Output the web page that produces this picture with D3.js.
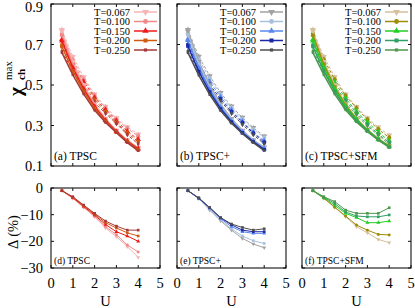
<!DOCTYPE html>
<html>
<head>
<meta charset="utf-8">
<script src="https://cdn.jsdelivr.net/npm/d3@7"></script>
<style>
  body { margin: 0; background: #fff; }
  svg text { font-family: "Liberation Serif", "DejaVu Serif", serif; fill: #000; }
</style>
</head>
<body>
<svg id="chart" width="415" height="308" font-family="Liberation Serif, DejaVu Serif, serif"></svg>
<script>
// interaction strength U (same grid for every curve)
const U = [0.5, 1, 1.5, 2, 2.5, 3, 3.5, 4];
const temps = ["T=0.067", "T=0.100", "T=0.150", "T=0.200", "T=0.250"];
const topLabels = ["(a) TPSC", "(b) TPSC+", "(c) TPSC+SFM"];
const bottomLabels = ["(d) TPSC", "(e) TPSC+", "(f) TPSC+SFM"];
const chiTicks = [0.1, 0.3, 0.5, 0.7, 0.9];
const deltaTicks = [0, -10, -20, -30];
const uTicks = [0, 1, 2, 3, 4, 5];
const errBar = [0.015, 0.013, 0.012, 0.012, 0.012, 0.012, 0.012, 0.012];

// chi_ch^max, solid curves (one row per temperature)
const chiTpsc = [
  [0.765, 0.615, 0.500, 0.405, 0.335, 0.275, 0.228, 0.190],
  [0.745, 0.600, 0.490, 0.400, 0.330, 0.272, 0.225, 0.188],
  [0.718, 0.585, 0.480, 0.393, 0.325, 0.270, 0.222, 0.185],
  [0.690, 0.568, 0.468, 0.385, 0.320, 0.267, 0.219, 0.180],
  [0.660, 0.550, 0.455, 0.375, 0.315, 0.265, 0.215, 0.175]
];
// chi_ch^max, dashed curves
const chiTpscDash = [
  [0.773, 0.640, 0.539, 0.454, 0.394, 0.337, 0.292, 0.257],
  [0.753, 0.624, 0.528, 0.447, 0.386, 0.330, 0.286, 0.247],
  [0.725, 0.607, 0.516, 0.438, 0.377, 0.323, 0.271, 0.231],
  [0.697, 0.588, 0.501, 0.427, 0.368, 0.314, 0.263, 0.220],
  [0.667, 0.569, 0.486, 0.414, 0.360, 0.309, 0.255, 0.208]
];
const chiPlus = [
  [0.765, 0.615, 0.500, 0.405, 0.333, 0.275, 0.228, 0.192],
  [0.748, 0.602, 0.490, 0.398, 0.328, 0.272, 0.225, 0.190],
  [0.720, 0.585, 0.478, 0.390, 0.322, 0.268, 0.222, 0.186],
  [0.692, 0.566, 0.465, 0.382, 0.317, 0.264, 0.219, 0.181],
  [0.660, 0.548, 0.452, 0.373, 0.311, 0.260, 0.215, 0.176]
];
const chiPlusDash = [
  [0.773, 0.641, 0.545, 0.462, 0.395, 0.339, 0.289, 0.247],
  [0.756, 0.627, 0.533, 0.452, 0.387, 0.332, 0.281, 0.240],
  [0.727, 0.609, 0.517, 0.441, 0.377, 0.321, 0.267, 0.224],
  [0.699, 0.588, 0.502, 0.430, 0.368, 0.314, 0.262, 0.217],
  [0.667, 0.569, 0.488, 0.420, 0.360, 0.305, 0.255, 0.208]
];
const chiSfm = [
  [0.765, 0.615, 0.500, 0.405, 0.335, 0.280, 0.235, 0.200],
  [0.745, 0.602, 0.490, 0.400, 0.332, 0.278, 0.233, 0.198],
  [0.718, 0.585, 0.480, 0.393, 0.328, 0.276, 0.232, 0.196],
  [0.690, 0.568, 0.468, 0.385, 0.323, 0.273, 0.230, 0.194],
  [0.660, 0.550, 0.455, 0.377, 0.318, 0.270, 0.228, 0.192]
];
const chiSfmDash = [
  [0.773, 0.640, 0.539, 0.454, 0.392, 0.337, 0.291, 0.252],
  [0.753, 0.626, 0.528, 0.447, 0.386, 0.330, 0.282, 0.240],
  [0.725, 0.607, 0.513, 0.434, 0.369, 0.317, 0.267, 0.224],
  [0.697, 0.588, 0.497, 0.423, 0.361, 0.306, 0.258, 0.216],
  [0.667, 0.569, 0.479, 0.411, 0.351, 0.298, 0.252, 0.207]
];

// Delta (%)
const deltaTpsc = [
  [-1, -3.9, -7.3, -10.8, -15.0, -18.3, -22.0, -26.0],
  [-1, -3.8, -7.2, -10.6, -14.5, -17.5, -21.4, -24.0],
  [-1, -3.6, -6.9, -10.2, -13.7, -16.4, -18.0, -20.0],
  [-1, -3.4, -6.6, -9.8, -13.0, -15.0, -16.8, -18.0],
  [-1, -3.3, -6.4, -9.5, -12.4, -14.3, -15.8, -15.8]
];
const deltaPlus = [
  [-1, -4.0, -8.3, -12.3, -15.8, -18.9, -21.0, -22.4],
  [-1, -4.0, -8.0, -12.0, -15.3, -18.0, -19.8, -20.8],
  [-1, -3.9, -7.6, -11.5, -14.5, -16.4, -17.0, -17.0],
  [-1, -3.8, -7.4, -11.2, -13.8, -15.8, -16.4, -16.4],
  [-1, -3.7, -7.3, -11.1, -13.5, -14.8, -15.8, -15.3]
];
const deltaSfm = [
  [-1, -3.9, -7.3, -10.8, -14.5, -16.8, -19.3, -20.5],
  [-1, -3.8, -7.2, -10.5, -13.9, -15.8, -17.4, -17.6],
  [-1, -3.6, -6.5, -9.5, -11.1, -13.0, -13.0, -12.4],
  [-1, -3.4, -5.8, -9.0, -10.5, -10.8, -10.8, -10.1],
  [-1, -3.3, -5.1, -8.3, -9.5, -9.5, -9.5, -7.4]
];

const palettes = [
  ["#f6b4b4", "#ef8a8a", "#ee1a1a", "#cf5a12", "#a63a3a"],
  ["#a2a2a2", "#a9c0dc", "#5a88ee", "#1a28a6", "#4e4e4e"],
  ["#d6c09e", "#9c8c08", "#22cf22", "#31a067", "#4d984d"]
];

const panels = [
  { chi: chiTpsc, dash: chiTpscDash, delta: deltaTpsc },
  { chi: chiPlus, dash: chiPlusDash, delta: deltaPlus },
  { chi: chiSfm, dash: chiSfmDash, delta: deltaSfm }
];

const svg = d3.select("#chart");

// layout
const lefts = [51, 177, 302];
const pw = 109;
const topY = [4, 166];
const botY = [188, 268];

// marker shapes per temperature
const shapes = [d3.symbolTriangle, d3.symbolCircle, d3.symbolTriangle, d3.symbolSquare, d3.symbolSquare];
const shapeRot = [180, 0, 0, 0, 0];
const shapeSize = [16, 14, 14, 12, 6];

function drawFrame(g, x, y, yTicks, xTicks) {
  const [x0, x1] = x.range();
  const [y1, y0] = y.range();
  g.append("rect")
    .attr("x", x0).attr("y", y0)
    .attr("width", x1 - x0).attr("height", y1 - y0)
    .attr("fill", "none").attr("stroke", "#111").attr("stroke-width", 1.1);
  // inward ticks on all four sides
  yTicks.forEach(t => {
    g.append("line").attr("x1", x0).attr("x2", x0 + 3).attr("y1", y(t)).attr("y2", y(t)).attr("stroke", "#111");
    g.append("line").attr("x1", x1).attr("x2", x1 - 3).attr("y1", y(t)).attr("y2", y(t)).attr("stroke", "#111");
  });
  xTicks.forEach(t => {
    g.append("line").attr("x1", x(t)).attr("x2", x(t)).attr("y1", y1).attr("y2", y1 - 3).attr("stroke", "#111");
    g.append("line").attr("x1", x(t)).attr("x2", x(t)).attr("y1", y0).attr("y2", y0 + 3).attr("stroke", "#111");
  });
}

panels.forEach((p, pi) => {
  const cols = palettes[pi];
  const x = d3.scaleLinear().domain([0, 5]).range([lefts[pi], lefts[pi] + pw]);

  // ---------- top row: chi max ----------
  const yc = d3.scaleLinear().domain([0.1, 0.9]).range(topY.slice().reverse());
  const gt = svg.append("g");
  const lineC = d3.line().x((d, i) => x(U[i])).y(d => yc(d));

  p.dash.forEach((row, ti) => {
    gt.append("path").attr("d", lineC(row))
      .attr("fill", "none").attr("stroke", cols[ti])
      .attr("stroke-width", 1).attr("stroke-dasharray", "3,2");
    row.forEach((v, i) => {
      gt.append("line")
        .attr("x1", x(U[i])).attr("x2", x(U[i]))
        .attr("y1", yc(v - errBar[i])).attr("y2", yc(v + errBar[i]))
        .attr("stroke", cols[ti]).attr("stroke-width", 1);
      gt.append("path")
        .attr("d", d3.symbol(shapes[ti], shapeSize[ti])())
        .attr("transform", `translate(${x(U[i])},${yc(v)}) rotate(${shapeRot[ti]})`)
        .attr("fill", cols[ti]);
    });
  });
  p.chi.forEach((row, ti) => {
    gt.append("path").attr("d", lineC(row))
      .attr("fill", "none").attr("stroke", cols[ti]).attr("stroke-width", 1.5);
    row.forEach((v, i) => {
      gt.append("path")
        .attr("d", d3.symbol(shapes[ti], shapeSize[ti])())
        .attr("transform", `translate(${x(U[i])},${yc(v)}) rotate(${shapeRot[ti]})`)
        .attr("fill", cols[ti]);
    });
  });
  drawFrame(gt, x, yc, chiTicks, uTicks);

  // legend
  const xr = lefts[pi] + pw;
  temps.forEach((t, ti) => {
    const ly = 12 + ti * 9.5;
    gt.append("text").attr("x", xr - 30).attr("y", ly + 3.5)
      .attr("text-anchor", "end").attr("font-size", 10.5).text(t);
    gt.append("line").attr("x1", xr - 26).attr("x2", xr - 3)
      .attr("y1", ly).attr("y2", ly)
      .attr("stroke", cols[ti]).attr("stroke-width", 1.5);
    gt.append("path")
      .attr("d", d3.symbol(shapes[ti], shapeSize[ti] + 4)())
      .attr("transform", `translate(${xr - 14.5},${ly}) rotate(${shapeRot[ti]})`)
      .attr("fill", cols[ti]);
  });
  gt.append("text").attr("x", lefts[pi] + 3).attr("y", 160)
    .attr("font-size", 11.5).text(topLabels[pi]);

  // ---------- bottom row: Delta ----------
  const yd = d3.scaleLinear().domain([-30, 0]).range(botY.slice().reverse());
  const gb = svg.append("g");
  const lineD = d3.line().x((d, i) => x(U[i])).y(d => yd(d));
  p.delta.forEach((row, ti) => {
    gb.append("path").attr("d", lineD(row))
      .attr("fill", "none").attr("stroke", cols[ti]).attr("stroke-width", 1);
    row.forEach((v, i) => {
      gb.append("path")
        .attr("d", d3.symbol(shapes[ti], 7)())
        .attr("transform", `translate(${x(U[i])},${yd(v)}) rotate(${shapeRot[ti]})`)
        .attr("fill", cols[ti]);
    });
  });
  drawFrame(gb, x, yd, deltaTicks, uTicks);
  gb.append("text").attr("x", lefts[pi] + 3).attr("y", 264)
    .attr("font-size", 9.5).text(bottomLabels[pi]);

  // x tick labels
  uTicks.forEach(t => {
    gb.append("text").attr("x", x(t)).attr("y", 288)
      .attr("text-anchor", "middle").attr("font-size", 14.5).text(t);
  });
  gb.append("text").attr("x", lefts[pi] + pw / 2).attr("y", 306)
    .attr("text-anchor", "middle").attr("font-size", 14.5).text("U");

  // y tick labels only on the first column
  if (pi === 0) {
    chiTicks.forEach(t => {
      gt.append("text").attr("x", 43).attr("y", Math.max(yc(t) + 5, 12))
        .attr("text-anchor", "end").attr("font-size", 14.5).text(t.toFixed(1));
    });
    deltaTicks.forEach(t => {
      gb.append("text").attr("x", 43).attr("y", yd(t) + 5)
        .attr("text-anchor", "end").attr("font-size", 14.5)
        .text(t < 0 ? "\u2212" + Math.abs(t) : t);
    });
  }
});

// axis titles
const yl = svg.append("g").attr("transform", "translate(22,96) rotate(-90)");
yl.append("text").attr("x", 0).attr("y", 0)
  .attr("font-size", 19).attr("font-weight", "bold").text("\u03c7");
yl.append("text").attr("x", 16).attr("y", 3)
  .attr("font-size", 11).attr("font-weight", "bold").text("ch");
yl.append("text").attr("x", 16).attr("y", -10)
  .attr("font-size", 11).text("max");

svg.append("text")
  .attr("transform", "translate(18,232) rotate(-90)")
  .attr("text-anchor", "middle").attr("font-size", 14.5).text("\u0394 (%)");
</script>
</body>
</html>
